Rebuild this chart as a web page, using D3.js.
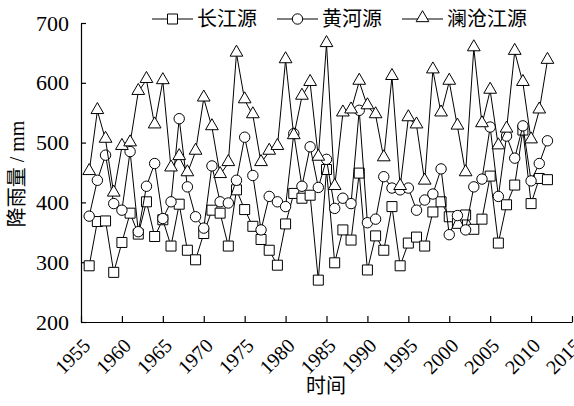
<!DOCTYPE html>
<html><head><meta charset="utf-8">
<script src="https://cdn.jsdelivr.net/npm/d3@7/dist/d3.min.js"></script>
<style>body{margin:0;background:#fff}svg{display:block}</style>
</head><body><svg id="c" width="574" height="406"></svg>
<script>
const years = [1956,1957,1958,1959,1960,1961,1962,1963,1964,1965,1966,1967,1968,1969,1970,1971,1972,1973,1974,1975,1976,1977,1978,1979,1980,1981,1982,1983,1984,1985,1986,1987,1988,1989,1990,1991,1992,1993,1994,1995,1996,1997,1998,1999,2000,2001,2002,2003,2004,2005,2006,2007,2008,2009,2010,2011,2012];
const changjiang = [294,368,369,283,333,382,347,401,343,371,327,397,320,304,348,387,382,327,421,388,360,338,320,295,364,415,407,412,270,455,299,354,337,449,287,344,320,393,294,332,342,327,384,401,376,365,379,355,372,444,332,396,429,521,398,440,438];
const huanghe = [377,437,479,398,387,485,351,427,465,373,401,540,426,376,357,461,401,399,437,509,445,354,410,401,393,515,427,493,425,472,390,407,398,554,366,372,443,424,421,424,387,404,414,456,346,378,354,426,439,526,410,511,474,528,436,465,503];
const lancang = [451,553,505,415,493,499,585,605,529,603,457,476,449,485,574,526,446,466,649,571,546,466,485,493,638,511,577,600,475,665,426,549,554,602,561,546,474,610,426,541,529,435,621,549,602,527,449,658,531,587,494,522,652,600,504,554,637];
const seriesNames = ["长江源","黄河源","澜沧江源"];
const xTicks = [1955,1960,1965,1970,1975,1980,1985,1990,1995,2000,2005,2010,2015];
const yTicks = [200,300,400,500,600,700];

const svg = d3.select("#c");
const FONT = "Times New Roman, Liberation Serif, Tinos, DejaVu Serif, Noto Sans CJK SC, serif";
const x = d3.scaleLinear().domain([1955,2015]).range([81,572]);
const y = d3.scaleLinear().domain([200,700]).range([322,23]);

// axes
const xa = svg.append("g").attr("transform","translate(0,322)")
  .call(d3.axisBottom(x).tickValues(xTicks).tickSizeInner(-6).tickSizeOuter(0).tickFormat(d3.format("d")));
xa.attr("font-family",FONT);
xa.select(".domain").attr("stroke","#000").attr("stroke-width",1.2);
xa.selectAll(".tick line").attr("stroke","#000").attr("stroke-width",1.2);
xa.selectAll(".tick text").attr("font-family",FONT).attr("font-size",20).attr("fill","#000")
  .attr("text-anchor","end").attr("dy",null).attr("y",0).attr("x",0)
  .attr("transform","translate(10,25) rotate(-45)");

const ya = svg.append("g").attr("transform","translate(81,0)")
  .call(d3.axisLeft(y).tickValues(yTicks).tickSizeInner(-5).tickSizeOuter(0).tickPadding(12));
ya.attr("font-family",FONT);
ya.select(".domain").attr("stroke","#000").attr("stroke-width",1.2);
ya.selectAll(".tick line").attr("stroke","#000").attr("stroke-width",1.2);
ya.selectAll(".tick text").attr("font-family",FONT).attr("font-size",22).attr("fill","#000");

// axis titles
svg.append("text").attr("x",326).attr("y",393).attr("text-anchor","middle")
  .attr("font-family",FONT).attr("font-size",20).attr("fill","#000").text("时间");
svg.append("text").attr("transform","translate(24,174) rotate(-90)").attr("text-anchor","middle")
  .attr("font-family",FONT).attr("font-size",20).attr("fill","#000").text("降雨量 / mm");

const shapes = [d3.symbolSquare, d3.symbolCircle, d3.symbolTriangle];
const sizes = [100, 85, 70];
const data = [changjiang, huanghe, lancang];

function marker(g, i, cx, cy){
  g.append("path").attr("d", d3.symbol().type(shapes[i]).size(sizes[i])())
   .attr("transform", `translate(${cx},${cy - (i===2?1:0)})`)
   .attr("fill","#fff").attr("stroke","#000").attr("stroke-width",1);
}

const line = d3.line().x((d,j)=>x(years[j])).y(d=>y(d));
data.forEach((vals,i)=>{
  const g = svg.append("g");
  g.append("path").attr("d", line(vals)).attr("fill","none").attr("stroke","#000").attr("stroke-width",1);
  vals.forEach((v,j)=>marker(g,i,x(years[j]),y(v)));
});

// legend
const lx = [152,277,402];
seriesNames.forEach((n,i)=>{
  const g = svg.append("g");
  g.append("line").attr("x1",lx[i]).attr("x2",lx[i]+41).attr("y1",19).attr("y2",19).attr("stroke","#000").attr("stroke-width",1);
  marker(g,i,lx[i]+20.5,19);
  g.append("text").attr("x",lx[i]+45).attr("y",26).attr("font-family",FONT).attr("font-size",20).attr("fill","#000").text(n);
});
</script></body></html>
